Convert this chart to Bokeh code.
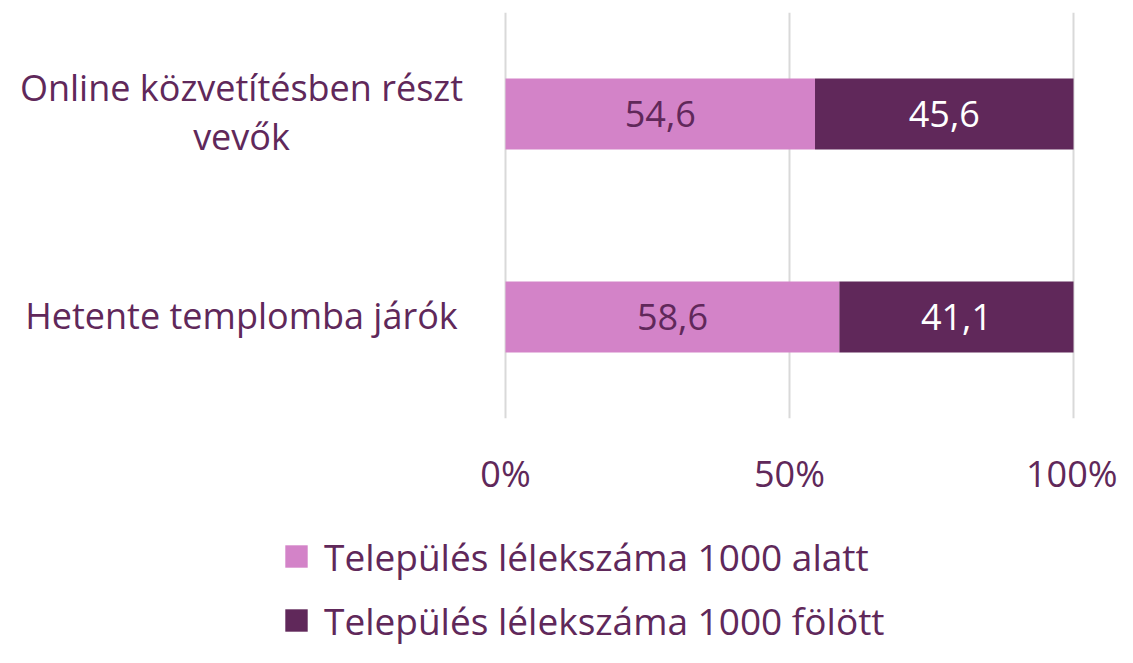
from bokeh.plotting import figure
from bokeh.layouts import column
from bokeh.models import ColumnDataSource, FactorRange, Range1d, Legend, LegendItem, FixedTicker, LabelSet
from bokeh.embed import file_html
from bokeh.resources import INLINE
from bokeh.core.properties import value

# ---- data ----
categories = ["Hetente templomba járók", "Online közvetítésben részt vevők"]
category_lines = [["Hetente templomba járók"], ["Online közvetítésben részt", "vevők"]]
alatt = [58.6, 54.6]     # Település lélekszáma 1000 alatt
folott = [41.1, 45.6]    # Település lélekszáma 1000 fölött
series_names = ["Település lélekszáma 1000 alatt", "Település lélekszáma 1000 fölött"]
tick_values = [0, 0.5, 1.0]
tick_labels = ["0%", "50%", "100%"]

FONT = "Open Sans"
TXT = "#60285A"
PINK = "#D383C8"
DARK = "#60285A"
GRID = "#D9D9D9"
FS = "36px"
FS_LEG = "37px"

# layout constants (screen px)
W = 1117
H_MAIN, H_LEG = 500, 147
ZERO_PX, FULL_PX = 505, 1073
unit = FULL_PX - ZERO_PX
LABEL_CENTER_PX = 241
LINE_GAP = 49
LABEL_SHIFT = 2

tot = [a + f for a, f in zip(alatt, folott)]
sa = [a / t for a, t in zip(alatt, tot)]
sf = [f / t for f, t in zip(folott, tot)]
src = ColumnDataSource(dict(
    cat=categories, a0=[0] * len(sa), a1=sa, f0=sa, f1=[x + y for x, y in zip(sa, sf)],
    amid=[x / 2 for x in sa], fmid=[x + y / 2 for x, y in zip(sa, sf)],
    alab=[f"{v:.1f}".replace(".", ",") for v in alatt],
    flab=[f"{v:.1f}".replace(".", ",") for v in folott],
))

# category label lines, centred on each other
lab_cat, lab_txt, lab_off = [], [], []
for c, lines in zip(categories, category_lines):
    n = len(lines)
    for i, ln in enumerate(lines):
        lab_cat.append(c)
        lab_txt.append(ln)
        lab_off.append(((n - 1) / 2 - i) * LINE_GAP + LABEL_SHIFT)
lab_src = ColumnDataSource(dict(cat=lab_cat, txt=lab_txt, off=lab_off,
                                x=[(LABEL_CENTER_PX - ZERO_PX) / unit] * len(lab_cat)))

p = figure(width=W, height=H_MAIN, y_range=FactorRange(*categories, range_padding=0),
           x_range=Range1d(-ZERO_PX / unit, 1 + (W - FULL_PX) / unit),
           output_backend="svg", toolbar_location=None, y_axis_location=None,
           min_border_left=0, min_border_right=0, min_border_top=12, min_border_bottom=78)
p.outline_line_color = None
p.background_fill_color = "white"
p.border_fill_color = "white"

p.xgrid.ticker = FixedTicker(ticks=tick_values)
p.xgrid.grid_line_color = GRID
p.xgrid.grid_line_width = 2
p.ygrid.grid_line_color = None

ra = p.hbar(y="cat", left="a0", right="a1", height=0.35, source=src, fill_color=PINK, line_color=None)
rf = p.hbar(y="cat", left="f0", right="f1", height=0.35, source=src, fill_color=DARK, line_color=None)

p.add_layout(LabelSet(x="amid", y="cat", text="alab", source=src, text_align="center", text_baseline="middle",
                      text_font=value(FONT), text_font_size=FS, text_color=TXT))
p.add_layout(LabelSet(x="fmid", y="cat", text="flab", source=src, text_align="center", text_baseline="middle",
                      text_font=value(FONT), text_font_size=FS, text_color="white"))
p.add_layout(LabelSet(x="x", y="cat", y_offset="off", text="txt", source=lab_src, text_align="center",
                      text_baseline="middle", text_font=value(FONT), text_font_size=FS, text_color=TXT))

p.xaxis.ticker = FixedTicker(ticks=tick_values)
p.xaxis.major_label_overrides = {t: l for t, l in zip(tick_values, tick_labels)}
p.xaxis.axis_line_color = None
p.xaxis.major_tick_line_color = None
p.xaxis.minor_tick_line_color = None
p.xaxis.major_label_standoff = 24
p.xaxis.major_label_text_font = FONT
p.xaxis.major_label_text_font_size = FS
p.xaxis.major_label_text_color = TXT

# ---- legend figure ----
q = figure(width=W, height=H_LEG, x_range=Range1d(0, 1), y_range=Range1d(0, 1),
           output_backend="svg", toolbar_location=None, x_axis_location=None, y_axis_location=None,
           min_border=0)
q.outline_line_color = None
q.xgrid.visible = False
q.ygrid.visible = False
dummy = ColumnDataSource(dict(x=[-1], y=[-1]))
la = q.scatter(x="x", y="y", marker="square", size=10, source=dummy, fill_color=PINK, line_color=None)
lf = q.scatter(x="x", y="y", marker="square", size=10, source=dummy, fill_color=DARK, line_color=None)
legend = Legend(items=[LegendItem(label=series_names[0], renderers=[la]),
                       LegendItem(label=series_names[1], renderers=[lf])],
                location=(268, -4), orientation="vertical",
                label_text_font=FONT, label_text_font_size=FS_LEG, label_text_color=TXT,
                glyph_width=56, glyph_height=62, label_standoff=0, spacing=2,
                padding=0, margin=0, border_line_color=None, background_fill_alpha=0)
q.add_layout(legend, "center")

open("out.html", "w").write(file_html(column(p, q, spacing=0), INLINE))
